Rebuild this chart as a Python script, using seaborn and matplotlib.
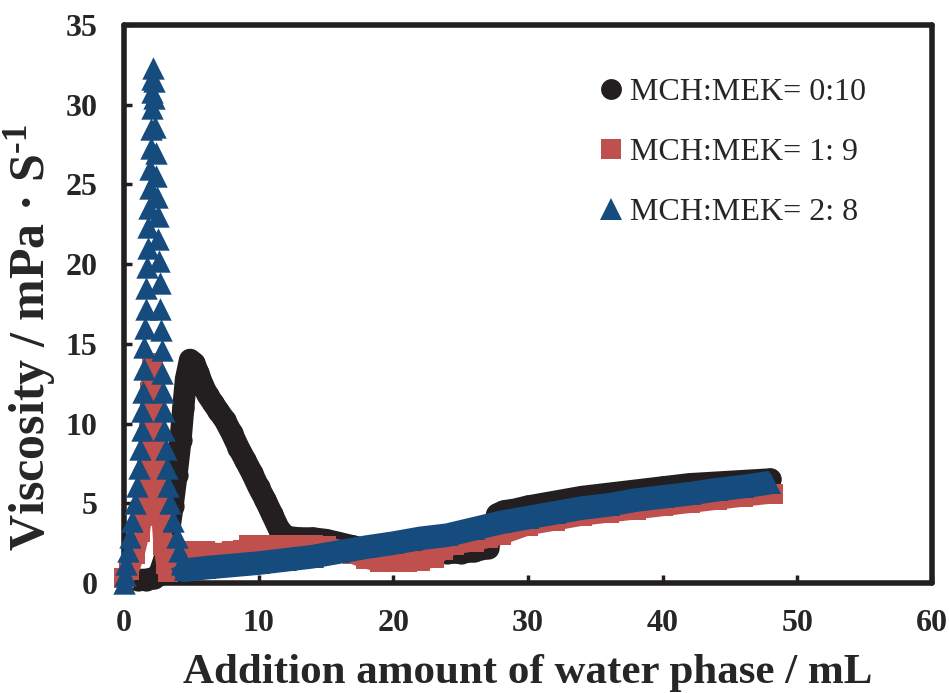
import numpy as np
import matplotlib
matplotlib.use("Agg")
import matplotlib.pyplot as plt
from matplotlib.lines import Line2D
import seaborn as sns

# values
black_x = [1.0, 1.6, 2.2, 2.6, 3.0, 3.3, 3.6, 3.9, 4.2, 4.4, 4.6, 4.9, 5.2, 5.5, 5.8,
           6.2, 6.6, 7.0, 7.5, 8.0, 8.5, 9.0, 9.5, 10.0, 10.5, 11.0, 11.5, 12.0, 13.0,
           14.0, 15.0, 16.0, 17.0, 18.0, 19.0, 20.0, 21.0, 22.0, 23.0, 24.0, 25.0, 26.0,
           27.0, 27.4, 27.7, 28.2, 29.0, 30.0, 32.0, 34.0, 36.0, 38.0, 40.0, 42.0, 44.0,
           46.0, 48.0]
black_y = [0.2, 0.2, 0.3, 0.5, 1.5, 3.0, 4.8, 6.8, 9.0, 11.0, 12.8, 14.0, 13.8, 13.2, 12.5,
           11.8, 11.3, 10.8, 10.2, 9.4, 8.5, 7.7, 6.9, 6.0, 5.2, 4.3, 3.4, 2.9, 2.8,
           2.8, 2.7, 2.5, 2.3, 2.1, 2.0, 1.9, 1.8, 1.8, 1.9, 1.9, 1.9, 2.0,
           2.2, 3.3, 4.3, 4.5, 4.6, 4.8, 5.1, 5.4, 5.6, 5.8, 6.0, 6.2, 6.3,
           6.4, 6.5]

red_x = [0.0, 0.4, 0.8, 1.2, 1.5, 1.7, 1.85, 1.95, 2.05, 2.15, 2.3, 2.45, 2.6, 2.75, 2.9,
         3.1, 3.3, 3.6, 4.0, 4.5, 5.0, 6.0, 7.0, 8.0, 8.8, 9.3, 10.0, 11.0, 12.0, 13.0,
         14.0, 15.0, 16.0, 17.0, 18.0, 19.0, 20.0, 21.0, 22.0, 23.0, 23.7, 24.5, 26.0,
         27.0, 28.0, 30.0, 32.0, 34.0, 36.0, 38.0, 40.0, 42.0, 44.0, 46.0, 48.2]
red_y = [0.3, 0.8, 1.8, 3.2, 5.0, 7.0, 9.5, 12.0, 13.8, 13.6, 11.5, 9.0, 6.5, 4.2, 2.4,
         1.2, 0.7, 0.9, 1.6, 2.0, 2.0, 2.0, 1.9, 2.0, 2.1, 2.4, 2.4, 2.4, 2.4, 2.4,
         2.4, 2.3, 2.1, 1.8, 1.5, 1.3, 1.3, 1.3, 1.4, 1.6, 2.1, 2.4, 2.6,
         2.8, 3.0, 3.6, 3.9, 4.2, 4.4, 4.6, 4.8, 5.0, 5.2, 5.4, 5.6]

blue_x = [0.0, 0.05, 0.15, 0.3, 0.45, 0.6, 0.8, 0.95, 1.1, 1.2, 1.3, 1.37, 1.42, 1.47, 1.5,
          1.55, 1.6, 1.65, 1.7, 1.75, 1.8, 1.85, 1.9, 1.95, 2.0, 2.02, 2.05, 2.08, 2.1, 2.12,
          2.2, 2.25, 2.3, 2.35, 2.4, 2.45, 2.5, 2.55, 2.6, 2.65, 2.7, 2.75, 2.8, 2.85, 2.9,
          2.95, 3.0, 3.1, 3.2, 3.3, 3.4, 3.6, 3.9, 4.1, 4.3, 4.5, 5.0, 6.0, 8.0, 10.0,
          12.0, 14.0, 16.0, 18.0, 20.0, 22.0, 24.0, 26.0, 28.0, 30.0, 32.0, 34.0, 36.0,
          38.0, 40.0, 42.0, 44.0, 46.0, 48.0]
blue_y = [0.0, 0.5, 1.2, 2.0, 2.9, 3.9, 5.0, 6.1, 7.2, 8.4, 9.6, 10.8, 12.0, 13.4, 14.8,
          16.0, 17.2, 18.5, 19.8, 21.0, 22.3, 23.5, 24.8, 26.0, 27.3, 28.5, 29.8, 30.8, 31.6, 32.3,
          31.5, 30.4, 28.6, 27.0, 25.5, 24.2, 23.0, 21.6, 20.2, 18.8, 17.2, 15.9, 14.6, 13.2, 12.0,
          10.8, 9.6, 8.4, 7.2, 6.1, 5.0, 3.9, 2.9, 2.0, 1.2, 0.8, 0.85, 0.95, 1.1, 1.25,
          1.45, 1.65, 1.95, 2.25, 2.5, 2.8, 3.0, 3.4, 3.8, 4.1, 4.4, 4.7, 4.9,
          5.2, 5.4, 5.6, 5.85, 6.05, 6.3]

labels = ["MCH:MEK= 0:10", "MCH:MEK= 1: 9", "MCH:MEK= 2: 8"]
c_black = "#231f20"
c_red = "#c0504d"
c_blue = "#154b7d"

sns.set_style("ticks")
plt.rcParams["font.family"] = ["Liberation Serif", "DejaVu Serif"]
plt.rcParams["mathtext.fontset"] = "custom"
plt.rcParams["mathtext.rm"] = "Liberation Serif:bold"
plt.rcParams["mathtext.it"] = "Liberation Serif:bold"
plt.rcParams["mathtext.bf"] = "Liberation Serif:bold"

fig = plt.figure(figsize=(9.49, 6.93), dpi=100)
ax = fig.add_axes([0.1307, 0.1587, 0.8514, 0.8052])

# black series: thick band of circles
sns.lineplot(x=black_x, y=black_y, sort=False, estimator=None, color=c_black,
             lw=16, marker="o", markersize=16, markeredgewidth=0,
             solid_capstyle="round", solid_joinstyle="round",
             clip_on=False, zorder=3, ax=ax)

# red series: squares
sns.lineplot(x=red_x, y=red_y, sort=False, estimator=None, color=c_red,
             lw=14, marker="s", markersize=14, markeredgewidth=0,
             solid_capstyle="butt", solid_joinstyle="round",
             clip_on=False, zorder=4, ax=ax)

# blue series: separated triangles on the peak, band afterwards
bx = np.array(blue_x)
by = np.array(blue_y)
peak = bx <= 4.3
flat = bx >= 4.3
sns.lineplot(x=bx[flat], y=by[flat], sort=False, estimator=None, color=c_blue,
             lw=17, marker="^", markersize=16, markeredgewidth=0,
             solid_capstyle="butt", solid_joinstyle="round",
             clip_on=False, zorder=5, ax=ax)
sns.scatterplot(x=bx[peak], y=by[peak], marker="^", s=260, color=c_blue,
                linewidth=0, clip_on=False, zorder=6, ax=ax)

ax.set_xlim(0, 60)
ax.set_ylim(0, 35)
ax.set_xticks(range(0, 61, 10))
ax.set_yticks(range(0, 36, 5))
ax.set_xticklabels([str(v) for v in range(0, 61, 10)], fontweight="bold", fontsize=23)
ax.set_yticklabels([str(v) for v in range(0, 36, 5)], fontweight="bold", fontsize=23)
ax.tick_params(axis="x", direction="in", length=6, width=2.5, color=c_black, pad=19,
               top=False)
ax.tick_params(axis="y", direction="in", length=6, width=2.5, color=c_black, pad=19,
               right=False)
for sp in ax.spines.values():
    sp.set_visible(True)
    sp.set_linewidth(4)
    sp.set_color(c_black)
    sp.set_capstyle("round")
    sp.set_joinstyle("round")

ax.set_xlabel("Addition amount of water phase / mL", fontsize=31, fontweight="bold")
ax.set_ylabel("Viscosity / mPa \u00b7 S$^{\u20101}$", fontsize=36, fontweight="bold")
ax.xaxis.set_label_coords(0.5, -0.128)
ax.yaxis.set_label_coords(-0.082, 0.44)

handles = [
    Line2D([], [], marker="o", color=c_black, linestyle="None", markersize=15, markeredgewidth=0),
    Line2D([], [], marker="s", color=c_red, linestyle="None", markersize=14, markeredgewidth=0),
    Line2D([], [], marker="^", color=c_blue, linestyle="None", markersize=16, markeredgewidth=0),
]
ax.legend(handles, labels, loc="upper left", bbox_to_anchor=(0.585, 0.905),
          frameon=False, fontsize=23, handlelength=0.9, handletextpad=0.15,
          labelspacing=0.95, borderpad=0, borderaxespad=0)

fig.savefig("out.png", dpi=100)
